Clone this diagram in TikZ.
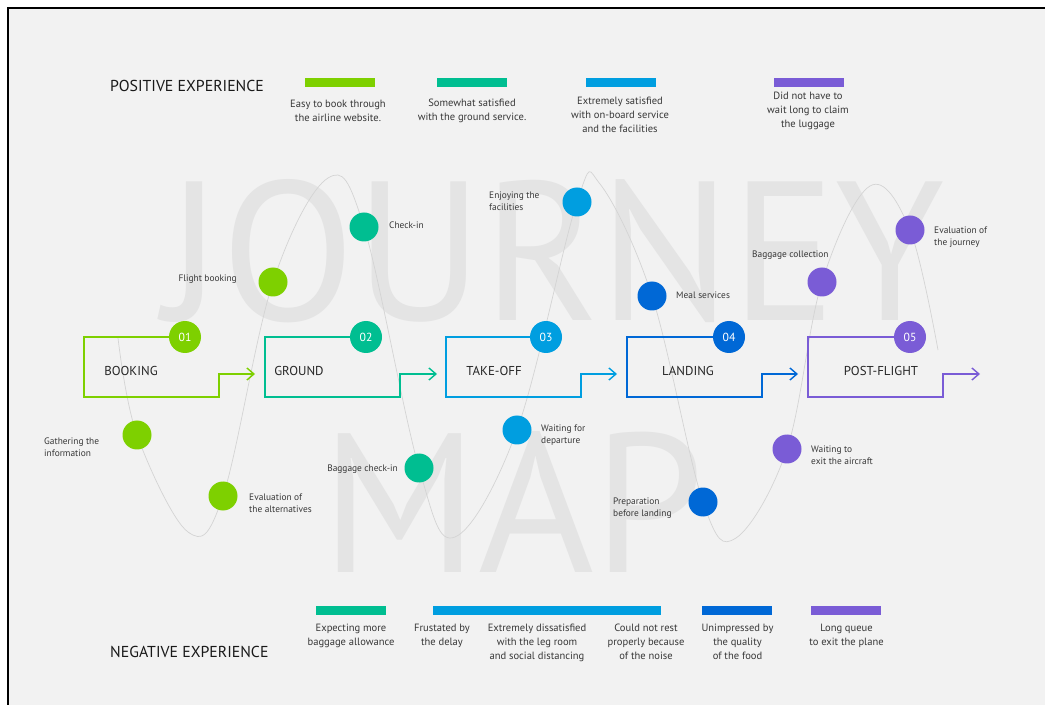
\documentclass[tikz,border=0pt]{standalone}
\usepackage{fontspec}
\setmainfont{PT Sans}
\usepackage{graphicx}
\usetikzlibrary{arrows.meta,positioning}

\definecolor{bgray}{RGB}{242,242,242}
\definecolor{wmark}{RGB}{228,228,228}
\definecolor{wave}{RGB}{212,212,212}
\definecolor{txt}{RGB}{55,55,55}
\definecolor{cBook}{RGB}{126,208,0}
\definecolor{cGround}{RGB}{0,190,145}
\definecolor{cTake}{RGB}{0,158,224}
\definecolor{cLand}{RGB}{0,104,214}
\definecolor{cPost}{RGB}{122,92,214}

\begin{document}
\begin{tikzpicture}[x=0.3mm,y=-0.3mm,>={Straight Barb[length=2.1mm,width=3.6mm]},
  dot/.style={circle,fill=#1,minimum size=8.7mm,inner sep=0pt},
  num/.style={circle,fill=#1,minimum size=9.6mm,inner sep=0pt,text=white,font=\fontsize{10}{12}\selectfont},
  frame/.style={draw=#1,line width=1.2pt},
  stg/.style={text=black!85,font=\fontsize{11}{13}\selectfont,inner sep=0pt},
  lbl/.style={text=txt,font=\fontsize{8}{10.2}\selectfont,align=left,inner sep=0pt},
  bar/.style={fill=#1,minimum width=21mm,minimum height=2.7mm,inner sep=0pt},
  leg/.style={text=txt,font=\fontsize{9}{12}\selectfont,align=center,inner sep=0pt,anchor=north},
  hd/.style={text=black!90,font=\fontsize{13.5}{16}\selectfont,inner sep=0pt,anchor=west}]
\useasboundingbox (0,0) rectangle (1045,705);
\fill[white] (0,0) rectangle (1045,705);
\fill[bgray] (8,8) rectangle (1045,705);
\draw[line width=1.4pt] (8,705) -- (8,8) -- (1045,8);

% background lettering
\node[text=wmark,inner sep=0pt] (wjourney) at (555,251) {\resizebox{234mm}{42.3mm}{JOURNEY}};
\node[text=wmark,inner sep=0pt] (wmap) at (513,502) {\resizebox{115mm}{42.3mm}{MAP}};

% emotion curve
\draw[wave,line width=0.6pt] plot[smooth,tension=0.6] coordinates {(118,338) (137,435) (188,532) (223,496) (273,282) (328,178) (364,227) (419,468) (455,537) (517,430) (577,202) (600,184) (652,296) (703,502) (736,538) (787,449) (822,282) (870,186) (910,230) (938,350)};

% stages
\node[num=cBook] (n1) at (185,337) {01};
\coordinate (a1) at (255,374);
\draw[frame=cBook,->] (n1.west) -- (84,337) -- (84,397) -- (219,397) -- (219,374) -- (a1);
\node[stg] (booking) at (131,371) {BOOKING};

\node[num=cGround] (n2) at (366,337) {02};
\coordinate (a2) at (437,374);
\draw[frame=cGround,->] (n2.west) -- (265,337) -- (265,397) -- (400,397) -- (400,374) -- (a2);
\node[stg] (ground) at (299,371) {GROUND};

\node[num=cTake] (n3) at (546,337) {03};
\coordinate (a3) at (617,374);
\draw[frame=cTake,->] (n3.west) -- (446,337) -- (446,397) -- (581,397) -- (581,374) -- (a3);
\node[stg] (takeoff) at (494,371) {TAKE-OFF};

\node[num=cLand] (n4) at (729,337) {04};
\coordinate (a4) at (798,374);
\draw[frame=cLand,->] (n4.west) -- (627,337) -- (627,397) -- (762,397) -- (762,374) -- (a4);
\node[stg] (landing) at (688,371) {LANDING};

\node[num=cPost] (n5) at (910,337) {05};
\coordinate (a5) at (980,374);
\draw[frame=cPost,->] (n5.west) -- (808,337) -- (808,397) -- (943,397) -- (943,374) -- (a5);
\node[stg] (postflight) at (881,371) {POST-FLIGHT};

% touchpoints
\node[dot=cBook] (gather) at (137,435) {};
\node[dot=cBook] (altern) at (223,496) {};
\node[dot=cBook] (fbook) at (273,282) {};
\node[dot=cGround] (checkin) at (364,227) {};
\node[dot=cGround] (bagin) at (419,468) {};
\node[dot=cTake] (waitdep) at (517,430) {};
\node[dot=cTake] (enjoy) at (577,202) {};
\node[dot=cLand] (meal) at (652,296) {};
\node[dot=cLand] (prep) at (703,502) {};
\node[dot=cPost] (waitexit) at (787,449) {};
\node[dot=cPost] (bagcol) at (822,282) {};
\node[dot=cPost] (evaljour) at (910,230) {};

\node[lbl,anchor=west] (gatherl) at (44,447) {Gathering the\\information};
\node[lbl,anchor=west] (alternl) at (249,503) {Evaluation of\\the alternatives};
\node[lbl,anchor=east] (fbookl) at (237,279) {Flight booking};
\node[lbl,anchor=west] (checkinl) at (389,225) {Check-in};
\node[lbl,anchor=east] (baginl) at (398,469) {Baggage check-in};
\node[lbl,anchor=west] (waitdepl) at (541,435) {Waiting for\\departure};
\node[lbl,anchor=west] (enjoyl) at (489,201) {Enjoying the\\facilities};
\node[lbl,anchor=west] (meall) at (676,295) {Meal services};
\node[lbl,anchor=west] (prepl) at (613,508) {Preparation\\before landing};
\node[lbl,anchor=west] (waitexitl) at (811,455) {Waiting to\\exit the aircraft};
\node[lbl,anchor=west] (bagcoll) at (752,255) {Baggage collection};
\node[lbl,anchor=west] (evaljourl) at (934,237) {Evaluation of\\the journey};

% positive legend
\node[hd] (poshd) at (110,86) {POSITIVE EXPERIENCE};
\node[bar=cBook] (pb1) at (340,82.5) {};
\node[leg] (pt1) at (338,100) {Easy to book through\\the airline website.};
\node[bar=cGround] (pb2) at (472,82.5) {};
\node[leg] (pt2) at (472,99) {Somewhat satisfied\\with the ground service.};
\node[bar=cTake] (pb3) at (621,82.5) {};
\node[leg] (pt3) at (620,97) {Extremely satisfied\\with on-board service\\and the facilities};
\node[bar=cPost] (pb4) at (809,82.5) {};
\node[leg] (pt4) at (808,92) {Did not have to\\wait long to claim\\the luggage};

% negative legend
\node[hd] (neghd) at (110,652) {NEGATIVE EXPERIENCE};
\node[bar=cGround] (nb1) at (350.5,610.5) {};
\node[bar=cTake,minimum width=68.4mm] (nb2) at (547,610.5) {};
\node[bar=cLand] (nb3) at (737,610.5) {};
\node[bar=cPost] (nb4) at (846,610.5) {};
\node[leg] (nt1) at (351,624) {Expecting more\\baggage allowance};
\node[leg] (nt2) at (442,624) {Frustated by\\the delay};
\node[leg] (nt3) at (537,624) {Extremely dissatisfied\\with the leg room\\and social distancing};
\node[leg] (nt4) at (646,624) {Could not rest\\properly because\\of the noise};
\node[leg] (nt5) at (737.5,624) {Unimpressed by\\the quality\\of the food};
\node[leg] (nt6) at (846.5,624) {Long queue\\to exit the plane};
\end{tikzpicture}
\end{document}
